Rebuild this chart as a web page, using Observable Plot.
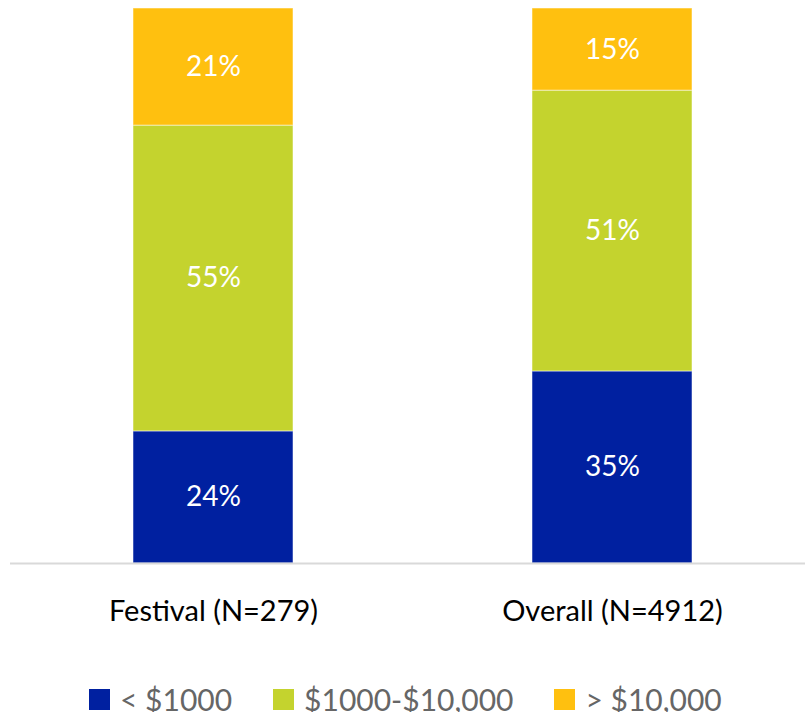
<!DOCTYPE html>
<html>
<head>
<meta charset="utf-8">
<script src="https://cdn.jsdelivr.net/npm/d3@7"></script>
<script src="https://cdn.jsdelivr.net/npm/@observablehq/plot@0.6"></script>
<style>
  body { margin: 0; background: #fff; font-family: Lato, "Open Sans", sans-serif; overflow: hidden; }
  #chart { width: 805px; }
  .legend { display: flex; align-items: center; height: 26px; line-height: 26px; margin-top: 56px; padding-left: 89px; font-size: 30px; color: #666; }
  .legend .item { display: flex; align-items: center; margin-right: 41px; }
  .legend .sw { width: 21px; height: 21px; margin-right: 10px; }
</style>
</head>
<body>
<div id="chart"></div>
<script>
const groups = ["Festival (N=279)", "Overall (N=4912)"];
const categories = ["< $1000", "$1000-$10,000", "> $10,000"];
const colors = ["#0020A0", "#C4D32E", "#FFC00F"];
// estimated shares (percent) per group, in category order
const festivalValues = [23.8, 55.1, 21.1];
const overallValues = [34.6, 50.6, 14.8];
const festivalLabels = ["24%", "55%", "21%"];
const overallLabels = ["35%", "51%", "15%"];

const data = [];
categories.forEach((c, i) => {
  data.push({group: groups[0], cat: c, value: festivalValues[i], label: festivalLabels[i]});
  data.push({group: groups[1], cat: c, value: overallValues[i], label: overallLabels[i]});
});

const chart = Plot.plot({
  width: 805,
  height: 630,
  marginTop: 8,
  marginBottom: 67,
  marginLeft: 10,
  marginRight: 0,
  style: {fontFamily: "Lato, 'Open Sans', sans-serif", fontSize: "28px", color: "#000"},
  x: {domain: groups, paddingInner: 0.6, paddingOuter: 0.294, align: 0.52, label: null, axis: null},
  y: {domain: [0, 100], axis: null},
  color: {domain: categories, range: colors},
  marks: [
    Plot.barY(data, Plot.stackY({x: "group", y: "value", z: "cat", order: categories, fill: "cat", stroke: "#fff", strokeOpacity: 0.5, strokeWidth: 1})),
    Plot.text(data, Plot.stackY({x: "group", y: "value", z: "cat", order: categories, text: "label", fill: "#fff", fontSize: 28})),
    Plot.axisX({tickSize: 0, tickPadding: 37, label: null, fontSize: 29, fill: "#000"}),
    Plot.ruleY([0], {stroke: "#d9d9d9", strokeWidth: 2})
  ]
});
document.getElementById("chart").appendChild(chart);

const legend = document.createElement("div");
legend.className = "legend";
categories.forEach((c, i) => {
  const item = document.createElement("div");
  item.className = "item";
  const sw = document.createElement("div");
  sw.className = "sw";
  sw.style.background = colors[i];
  const t = document.createElement("span");
  t.textContent = c;
  item.appendChild(sw);
  item.appendChild(t);
  legend.appendChild(item);
});
document.getElementById("chart").appendChild(legend);
</script>
</body>
</html>
